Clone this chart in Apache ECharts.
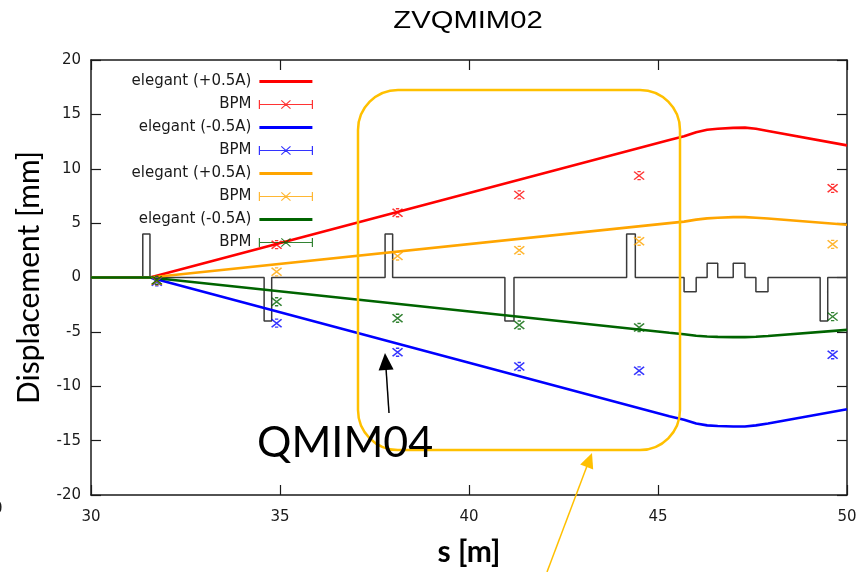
<!DOCTYPE html>
<html><head><meta charset="utf-8">
<script src="https://cdn.jsdelivr.net/npm/echarts@6/dist/echarts.min.js"></script>
<style>html,body{margin:0;padding:0;background:#fff}#c{width:861px;height:572px}</style>
</head><body><div id="c"></div>
<script>
// ---- data ----
const titleText = 'ZVQMIM02';
const xTickMin = 30, xTickMax = 50, xTickStep = 5;
const yTickMin = -20, yTickMax = 20, yTickStep = 5;

// elegant simulation curves (s [m] -> displacement [mm])
const elegantS      = [30, 31.56, 45.3, 45.69, 46.01, 46.3, 46.58, 46.99, 47.3, 47.59, 47.91, 50];
const elegantRed    = [0, 0, 12.65, 12.98, 13.35, 13.58, 13.68, 13.76, 13.78, 13.68, 13.48, 12.15];
const elegantBlue   = [0, 0, -12.75, -13.08, -13.42, -13.6, -13.66, -13.7, -13.7, -13.6, -13.42, -12.12];
const elegantOrange = [0, 0, 5.0, 5.14, 5.32, 5.44, 5.5, 5.55, 5.55, 5.5, 5.42, 4.85];
const elegantGreen  = [0, 0, -5.08, -5.22, -5.36, -5.43, -5.46, -5.48, -5.48, -5.45, -5.38, -4.82];

// BPM measurements
const bpmS      = [31.74, 34.91, 38.11, 41.33, 44.5, 49.62];
const bpmRed    = [-0.3, 3.02, 5.95, 7.6, 9.37, 8.2];
const bpmBlue   = [-0.4, -4.2, -6.87, -8.18, -8.58, -7.1];
const bpmOrange = [-0.3, 0.52, 1.98, 2.5, 3.33, 3.05];
const bpmGreen  = [-0.25, -2.23, -3.75, -4.37, -4.6, -3.6];

// magnet layout (profile boxes)
const magStart  = [31.37, 34.58, 37.78, 40.95, 44.17, 45.69, 46.30, 46.99, 47.59, 49.29];
const magEnd    = [31.56, 34.78, 37.98, 41.19, 44.40, 46.01, 46.58, 47.30, 47.91, 49.49];
const magHeight = [4, -4, 4, -4, 4, -1.3, 1.3, 1.3, -1.3, -4];

const legendNames  = ['eRed', 'bRed', 'eBlue', 'bBlue', 'eOrange', 'bOrange', 'eGreen', 'bGreen'];
const legendLabels = ['elegant (+0.5A)', 'BPM', 'elegant (-0.5A)', 'BPM', 'elegant (+0.5A)', 'BPM', 'elegant (-0.5A)', 'BPM'];
const seriesColors = ['#FF0000', '#FF0000', '#0000FF', '#0000FF', '#FFA500', '#FFA500', '#006400', '#006400'];

// ---- build ----
const pairs = (xs, ys) => xs.map((x, i) => [x, ys[i]]);
const profile = [[xTickMin, 0]];
magStart.forEach((s0, i) => {
  profile.push([s0, 0], [s0, magHeight[i]], [magEnd[i], magHeight[i]], [magEnd[i], 0]);
});
profile.push([xTickMax, 0]);

const labelMap = {};
legendNames.forEach((n, i) => labelMap[n] = legendLabels[i]);

const lineIcon = 'path://M0,0 M53,10 M0,3.6 L53,3.6 L53,6.4 L0,6.4 Z';
const bpmIcon = 'path://M0.5,0.5 L0.5,9.5 M0.5,5 L52.5,5 M52.5,0.5 L52.5,9.5 M22,1 L31,9 M31,1 L22,9';
const bpmSymbol = 'path://M3.5,0 L6.5,0 M3.5,8 L6.5,8 M0.5,0 L9.5,8 M9.5,0 L0.5,8';

const elegantData = [elegantRed, elegantBlue, elegantOrange, elegantGreen];
const bpmData = [bpmRed, bpmBlue, bpmOrange, bpmGreen];

const series = [{
  name: 'magnets', type: 'line', data: profile, symbol: 'none', z: 1,
  lineStyle: { color: '#3a3a3a', width: 1.5 }, itemStyle: { color: '#3a3a3a' }, silent: true
}];
for (let k = 0; k < 4; k++) {
  series.push({
    name: legendNames[2 * k], type: 'line', data: pairs(elegantS, elegantData[k]),
    symbol: 'none', z: 2 + k, silent: true,
    lineStyle: { color: seriesColors[2 * k], width: 2.6 }, itemStyle: { color: seriesColors[2 * k] }
  });
}
for (let k = 0; k < 4; k++) {
  series.push({
    name: legendNames[2 * k + 1], type: 'scatter', data: pairs(bpmS, bpmData[k]),
    symbol: bpmSymbol, symbolSize: [10, 8], z: 10 + k, silent: true,
    itemStyle: { color: 'rgba(0,0,0,0)', borderColor: seriesColors[2 * k + 1], borderWidth: 1.5 }
  });
}

const legendData = legendNames.map((n, i) => (i % 2 === 0)
  ? { name: n, icon: lineIcon, itemStyle: { color: seriesColors[i], borderWidth: 0 } }
  : { name: n, icon: bpmIcon, itemStyle: { color: 'rgba(0,0,0,0)', borderColor: seriesColors[i], borderWidth: 1.2 } });

const axisCommon = {
  type: 'value', splitLine: { show: false },
  axisLine: { show: true, onZero: false, lineStyle: { color: '#1a1a1a', width: 1.5 } },
  axisTick: { show: true, inside: true, length: 10, lineStyle: { color: '#1a1a1a', width: 1.2 } }
};
const lblStyle = { fontFamily: 'DejaVu Sans', fontSize: 15, color: '#1a1a1a' };

const option = {
  animation: false,
  backgroundColor: '#ffffff',
  grid: { left: 91, right: 14, top: 60, bottom: 75, containLabel: false },
  legend: {
    orient: 'vertical', align: 'right', right: 548, top: 74, padding: 0,
    itemWidth: 53, itemHeight: 10, itemGap: 8, selectedMode: false,
    textStyle: { fontFamily: 'DejaVu Sans', fontSize: 15, color: '#1a1a1a' },
    formatter: n => labelMap[n] + '\u2009',
    data: legendData
  },
  xAxis: [
    Object.assign({}, axisCommon, {
      position: 'bottom', min: xTickMin, max: xTickMax, interval: xTickStep,
      axisLabel: Object.assign({ margin: 15 }, lblStyle),
      name: 's [m]', nameLocation: 'middle', nameGap: 42,
      nameTextStyle: { fontFamily: 'Lato', fontWeight: 'bold', fontSize: 30, color: '#000' }
    }),
    Object.assign({}, axisCommon, {
      position: 'top', min: xTickMin, max: xTickMax, interval: xTickStep, axisLabel: { show: false }
    })
  ],
  yAxis: [
    Object.assign({}, axisCommon, {
      position: 'left', min: yTickMin, max: yTickMax, interval: yTickStep,
      axisLabel: Object.assign({ margin: 10 }, lblStyle),
      name: 'Displacement [mm]', nameLocation: 'middle', nameGap: 47,
      nameTextStyle: { fontFamily: 'Lato', fontSize: 30, color: '#000' }
    }),
    Object.assign({}, axisCommon, {
      position: 'right', min: yTickMin, max: yTickMax, interval: yTickStep, axisLabel: { show: false }
    })
  ],
  series: series,
  graphic: [
    { type: 'text', x: 468, y: 22, scaleX: 1.27, z: 50,
      style: { text: titleText, font: '23px "Liberation Sans"', fill: '#000', textAlign: 'center', textVerticalAlign: 'middle' } },
    { type: 'rect', z: 60, shape: { x: 358, y: 90, width: 322, height: 360, r: 40 },
      style: { fill: 'none', stroke: '#FFC000', lineWidth: 2.5 } },
    { type: 'text', x: 257, y: 443, z: 61,
      style: { text: 'QMIM04', font: '43px Lato', fill: '#000', textAlign: 'left', textVerticalAlign: 'middle' } },
    { type: 'polyline', z: 62, shape: { points: [[389, 413], [386, 368]] },
      style: { stroke: '#000', lineWidth: 1.5, fill: 'none' } },
    { type: 'polygon', z: 62, shape: { points: [[385, 353], [378.6, 370.5], [393.6, 369.5]] },
      style: { fill: '#000' } },
    { type: 'polyline', z: 62, shape: { points: [[547, 572], [587, 466]] },
      style: { stroke: '#FFC000', lineWidth: 1.5, fill: 'none' } },
    { type: 'polygon', z: 62, shape: { points: [[592, 453], [580.2, 464.5], [593.2, 469.5]] },
      style: { fill: '#FFC000' } },
    { type: 'text', x: -7, y: 509, z: 50,
      style: { text: '0', font: '15px "DejaVu Sans"', fill: '#1a1a1a', textVerticalAlign: 'middle' } }
  ]
};

const chart = echarts.init(document.getElementById('c'), null, { renderer: 'canvas' });
chart.setOption(option);
</script>
</body></html>
